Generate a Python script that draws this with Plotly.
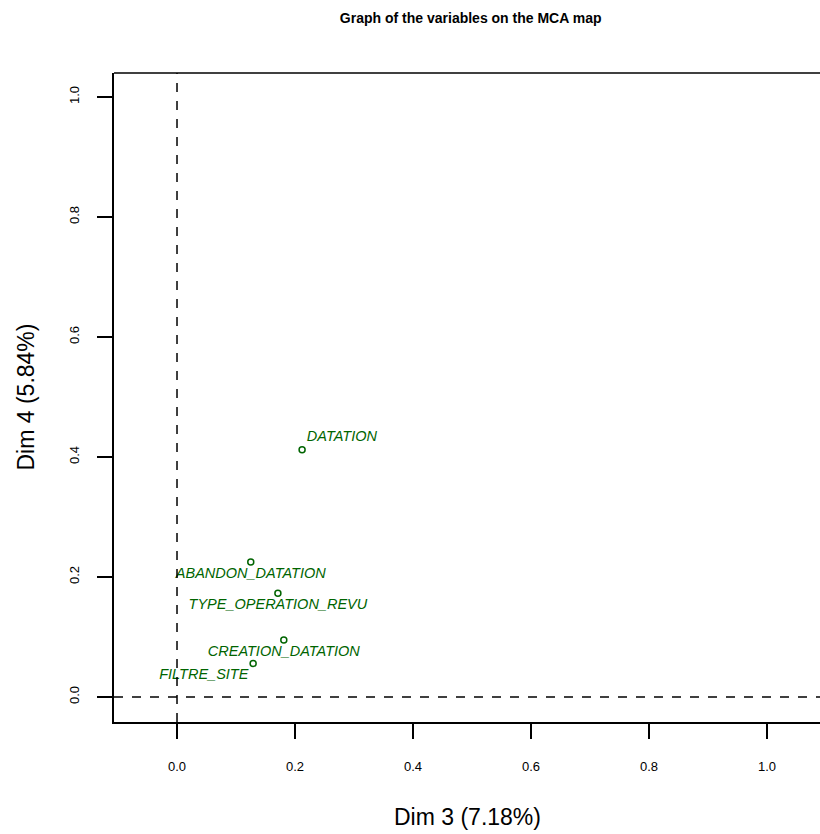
import plotly.graph_objects as go

# Data
variables = ["DATATION", "ABANDON_DATATION", "TYPE_OPERATION_REVU", "CREATION_DATATION", "FILTRE_SITE"]
dim3 = [0.212, 0.125, 0.171, 0.181, 0.129]
dim4 = [0.412, 0.225, 0.173, 0.095, 0.056]
label_pos = ["top right", "bottom center", "bottom center", "bottom center", "bottom left"]
x_ticks = [0.0, 0.2, 0.4, 0.6, 0.8, 1.0]
y_ticks = [0.0, 0.2, 0.4, 0.6, 0.8, 1.0]

GREEN = "#006400"
FONT = "Liberation Sans, Arial, sans-serif"

W, H = 820, 834

fig = go.Figure()

# reference dashed lines at 0
fig.add_hline(y=0, line=dict(color="black", width=1.5, dash="dash"))
fig.add_vline(x=0, line=dict(color="black", width=1.5, dash="dash"))

fig.add_trace(go.Scatter(
    x=dim3, y=dim4, mode="markers+text", text=variables,
    textposition=label_pos,
    textfont=dict(family=FONT, size=14.5, color=GREEN, style="italic"),
    marker=dict(symbol="circle-open", size=6, color=GREEN, line=dict(width=1.5, color=GREEN)),
    hoverinfo="skip", showlegend=False, cliponaxis=False,
))

fig.update_layout(
    width=W, height=H,
    margin=dict(l=114, r=0, t=73, b=112),
    paper_bgcolor="white", plot_bgcolor="white",
    font=dict(family=FONT, color="black"),
    title=dict(text="<b>Graph of the variables on the MCA map</b>",
               font=dict(family=FONT, size=14, color="black"),
               x=0.574, xanchor="center", xref="container",
               y=1 - 18 / H, yanchor="middle", yref="container"),
    showlegend=False,
)

fig.update_xaxes(
    range=[-0.1068, 1.0898], tickvals=x_ticks, ticktext=[f"{v:.1f}" for v in x_ticks],
    showgrid=False, zeroline=False, showline=True, linecolor="black", linewidth=1.5,
    ticks="outside", ticklen=15, tickwidth=1.5, tickcolor="black",
    tickfont=dict(family=FONT, size=13, color="black"), ticklabelstandoff=17,
    mirror=False,
)
fig.update_yaxes(
    range=[-0.0417, 1.04], tickvals=y_ticks, ticktext=[f"{v:.1f}" for v in y_ticks],
    showgrid=False, zeroline=False, showline=True, linecolor="black", linewidth=1.5,
    ticks="outside", ticklen=15, tickwidth=1.5, tickcolor="black",
    tickfont=dict(family=FONT, size=13, color="black"), tickangle=-90, ticklabelstandoff=13,
    mirror=False,
)

# top border of the box (right edge is cut off in the reference)
fig.add_shape(type="line", xref="paper", yref="paper", x0=0, x1=1, y0=1, y1=1,
              line=dict(color="black", width=1.5))

# axis titles
fig.add_annotation(text="Dim 3 (7.18%)", xref="paper", yref="paper", x=0.5, y=0,
                   xanchor="center", yanchor="middle", yshift=-95, showarrow=False,
                   font=dict(family=FONT, size=23, color="black"))
fig.add_annotation(text="Dim 4 (5.84%)", xref="paper", yref="paper", x=0, y=0.5,
                   xanchor="center", yanchor="middle", xshift=-89, textangle=-90, showarrow=False,
                   font=dict(family=FONT, size=23, color="black"))

fig.write_html("out.html", config={"displayModeBar": False},
               post_script="document.body.style.margin='0';document.body.style.overflow='hidden';")
